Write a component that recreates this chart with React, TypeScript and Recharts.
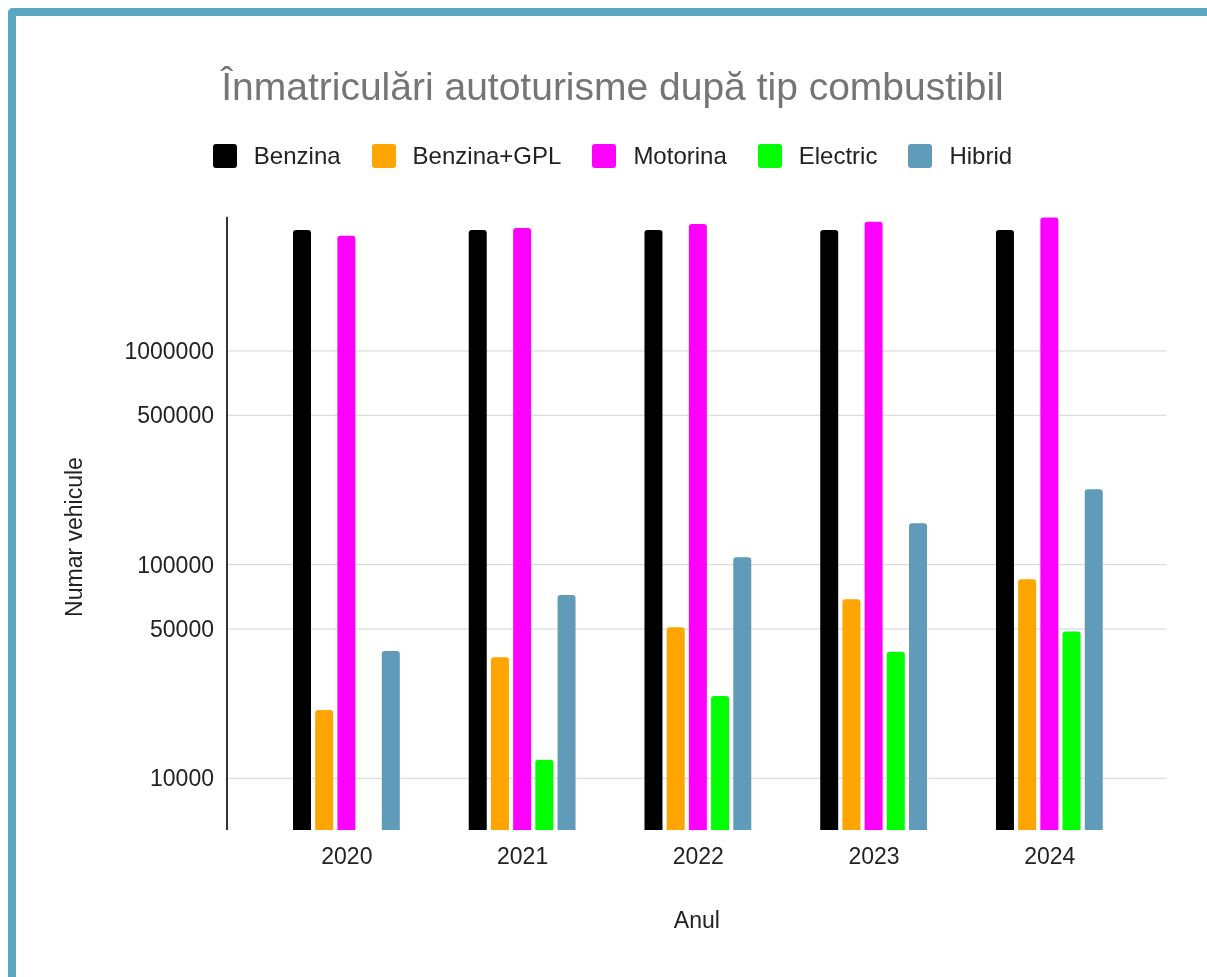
import React from 'react';
import { BarChart, Bar, XAxis, YAxis, CartesianGrid, Legend, Label } from 'recharts';

// ---- data ----
const years = ['2020', '2021', '2022', '2023', '2024'];
const benzina = [3680000, 3680000, 3680000, 3680000, 3680000];
const benzinaGpl = [20900, 36900, 50900, 68800, 85400];
const motorina = [3460000, 3760000, 3930000, 4020000, 4210000];
const electric: (number | null)[] = [null, 12200, 24300, 39100, 48600];
const hibrid = [39400, 72100, 108300, 156100, 225300];
const yTicks = [10000, 50000, 100000, 500000, 1000000];

const seriesNames = ['Benzina', 'Benzina+GPL', 'Motorina', 'Electric', 'Hibrid'];
const seriesKeys = ['benzina', 'gpl', 'motorina', 'electric', 'hibrid'];
const seriesColors = ['#000000', '#ffa500', '#ff00ff', '#00ff00', '#609bb9'];

const data = years.map((y, i) => ({
  year: y,
  benzina: benzina[i],
  gpl: benzinaGpl[i],
  motorina: motorina[i],
  electric: electric[i],
  hibrid: hibrid[i],
}));

const FONT = '"Liberation Sans", Arial, Helvetica, sans-serif';
const W = 1199;
const H = 961;

const renderLegend = () => (
  <div
    style={{
      display: 'flex',
      justifyContent: 'center',
      alignItems: 'center',
      fontFamily: FONT,
      fontSize: 24,
      lineHeight: '24px',
      color: '#222',
      whiteSpace: 'nowrap',
    }}
  >
    {seriesNames.map((n, i) => (
      <div key={n} style={{ display: 'flex', alignItems: 'center', marginLeft: i === 0 ? 0 : 31 }}>
        <span
          style={{
            width: 24,
            height: 24,
            borderRadius: 3,
            background: seriesColors[i],
            marginRight: 17,
            display: 'inline-block',
          }}
        />
        <span>{n}</span>
      </div>
    ))}
  </div>
);

export default function App() {
  return (
    <div style={{ position: 'fixed', left: 8, top: 8, width: 1230, height: 990, fontFamily: FONT }}>
      <div
        style={{
          position: 'absolute',
          left: 0,
          top: 0,
          width: 1230,
          height: 990,
          boxSizing: 'border-box',
          borderTop: '8px solid #5aa6c1',
          borderLeft: '8px solid #5aa6c1',
          borderTopLeftRadius: 5,
        }}
      />
      <div
        style={{
          position: 'absolute',
          left: 10,
          top: 59,
          width: 1189,
          textAlign: 'center',
          fontSize: 39,
          lineHeight: '39px',
          color: '#757575',
          fontFamily: FONT,
          whiteSpace: 'nowrap',
        }}
      >
        Înmatriculări autoturisme după tip combustibil
      </div>
      <div style={{ position: 'absolute', left: 0, top: 0 }}>
        <BarChart
          width={W}
          height={H}
          data={data}
          margin={{ top: 208.7, right: 40.3, bottom: 41, left: 0 }}
          barSize={18}
          barGap={4.2}
        >
          <CartesianGrid vertical={false} horizontalValues={yTicks} stroke="#d4d4d4" strokeWidth={1} />
          <XAxis
            dataKey="year"
            height={98}
            axisLine={false}
            tickLine={false}
            tickSize={0}
            tickMargin={18}
            padding={{ left: 32, right: 29 }}
            tick={{ fill: '#222', fontSize: 23, fontFamily: FONT }}
            label={{ value: 'Anul', position: 'insideBottom', offset: 0, fill: '#222', fontSize: 23, fontFamily: FONT }}
          />
          <YAxis
            type="number"
            scale="log"
            domain={[5730, 4250000]}
            allowDataOverflow
            ticks={yTicks}
            width={219}
            axisLine={{ stroke: '#333', strokeWidth: 2 }}
            tickLine={false}
            tickSize={0}
            tickMargin={13}
            tick={{ fill: '#222', fontSize: 23, fontFamily: FONT }}
          >
            <Label
              content={() => (
                <text
                  x={74}
                  y={529}
                  transform="rotate(-90 74 529)"
                  textAnchor="middle"
                  fontSize={23}
                  fill="#222"
                  fontFamily={FONT}
                >
                  Numar vehicule
                </text>
              )}
            />
          </YAxis>
          <Legend
            layout="horizontal"
            verticalAlign="middle"
            align="center"
            content={renderLegend}
            wrapperStyle={{ top: 136, left: 10, width: 1189, height: 24 }}
          />
          {seriesKeys.map((k, i) => (
            <Bar
              key={k}
              dataKey={k}
              name={seriesNames[i]}
              fill={seriesColors[i]}
              radius={[3, 3, 0, 0]}
              isAnimationActive={false}
            />
          ))}
        </BarChart>
      </div>
    </div>
  );
}
